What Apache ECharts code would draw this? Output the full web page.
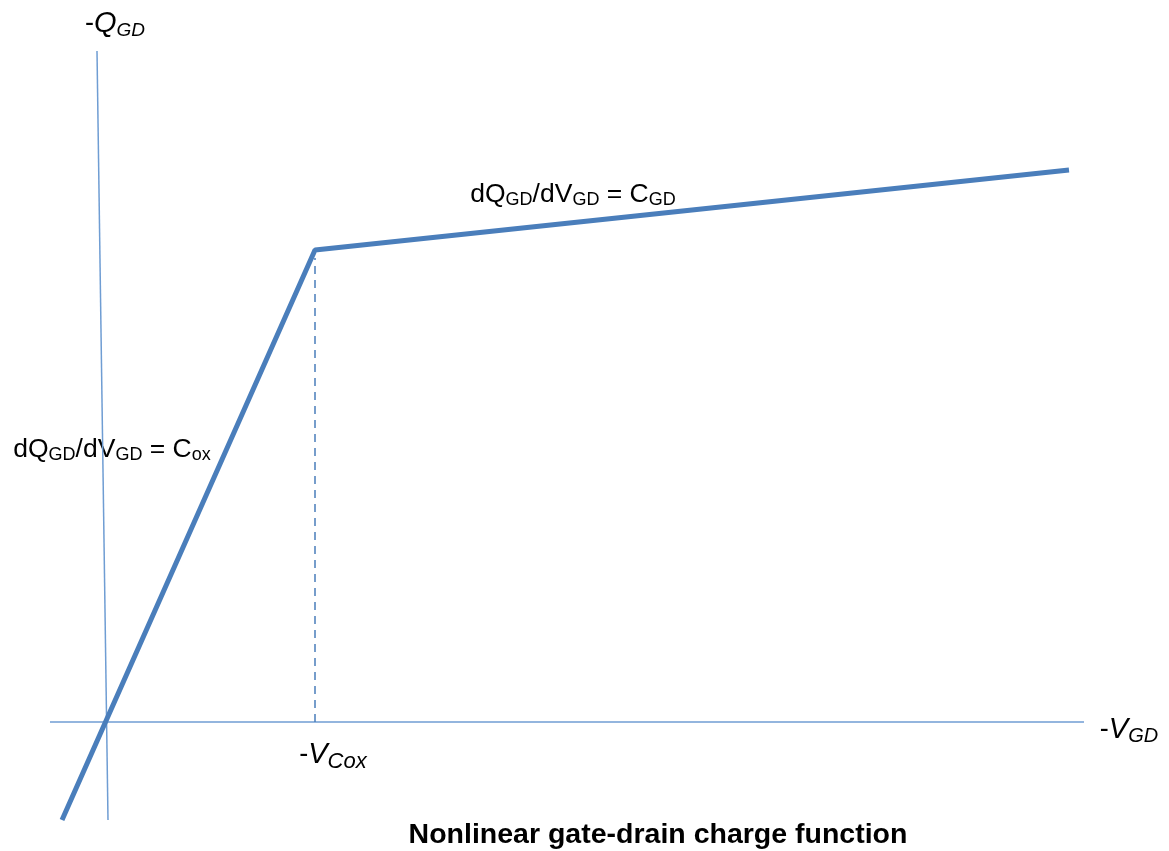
<!DOCTYPE html>
<html>
<head>
<meta charset="utf-8">
<script src="https://cdn.jsdelivr.net/npm/echarts@6/dist/echarts.min.js"></script>
<style>
html, body { margin: 0; padding: 0; background: #fff; }
#chart { width: 1169px; height: 851px; }
</style>
</head>
<body>
<div id="chart"></div>
<script>
// units: x = -V_GD, y = -Q_GD (arbitrary, origin at axes crossing)
const chargeX = [-4.5, 20.8, 96.2]
const chargeY = [-9.8, 47.2, 55.2]
const vCox = 20.8
const qAxisX = [-1.0, 0.1]
const qAxisY = [67.1, -9.8]
const vAxisX = [-5.7, 97.7]

const chart = echarts.init(document.getElementById("chart"))

const lineBlue = "#4a7ebb"
const axisBlue = "#6f9dd3"
const font = "'Liberation Sans', 'Noto Sans', sans-serif"

const txt = (size, extra) => Object.assign({ fontSize: size, fontFamily: font, color: "#000" }, extra || {})

const axisName = (sub, subSize) => ({
	formatter: "{m|-}{i|" + sub[0] + "}{s|" + sub.slice(1) + "}",
	color: "#000",
	rich: {
		m: txt(27),
		i: txt(29, { fontStyle: "italic" }),
		s: txt(subSize, { fontStyle: "italic", padding: [13, 0, 0, 0] })
	}
})

const slopeLabel = (c) => ({
	formatter: "{n|dQ}{s|GD}{n|/dV}{s|GD}{n| = C}{s|" + c + "}",
	color: "#000",
	rich: { n: txt(26.5), s: txt(18, { padding: [11, 0, 0, 0] }) }
})

const labelData = [
	{ value: [0.8, 69.8], label: axisName("QGD", 19) },
	{ value: [102.2, -0.8], label: axisName("VGD", 20) },
	{ value: [22.6, -3.3], label: axisName("VCox", 22) },
	{ value: [46.6, 52.7], label: slopeLabel("GD") },
	{ value: [0.5, 27.2], label: slopeLabel("ox") },
	{
		value: [55.1, -11.3],
		label: {
			formatter: "Nonlinear gate-drain charge function",
			fontSize: 28.5,
			fontWeight: "bold",
			fontFamily: font,
			color: "#000"
		}
	}
]

const option = {
	animation: false,
	backgroundColor: "#fff",
	grid: { left: 0, top: 0, width: 1169, height: 851 },
	xAxis: { type: "value", min: -10.7, max: 106.2, show: false },
	yAxis: { type: "value", min: -12.9, max: 72.2, show: false },
	series: [
		{
			name: "V axis",
			type: "line",
			symbol: "none",
			lineStyle: { color: axisBlue, width: 1.5 },
			data: vAxisX.map(x => [x, 0])
		},
		{
			name: "Q axis",
			type: "line",
			symbol: "none",
			lineStyle: { color: axisBlue, width: 1.5 },
			data: qAxisX.map((x, i) => [x, qAxisY[i]])
		},
		{
			name: "Vcox",
			type: "line",
			symbol: "none",
			lineStyle: { color: lineBlue, width: 1.5, type: [8, 6] },
			data: [[vCox, 0], [vCox, chargeY[1] - 0.8]]
		},
		{
			name: "charge",
			type: "line",
			symbol: "none",
			z: 5,
			lineStyle: { color: lineBlue, width: 5 },
			data: chargeX.map((x, i) => [x, chargeY[i]])
		},
		{
			name: "labels",
			type: "scatter",
			symbolSize: 0,
			itemStyle: { opacity: 1 },
			label: { show: true, position: "inside", color: "#000", opacity: 1 },
			data: labelData
		}
	]
}

chart.setOption(option)
</script>
</body>
</html>
